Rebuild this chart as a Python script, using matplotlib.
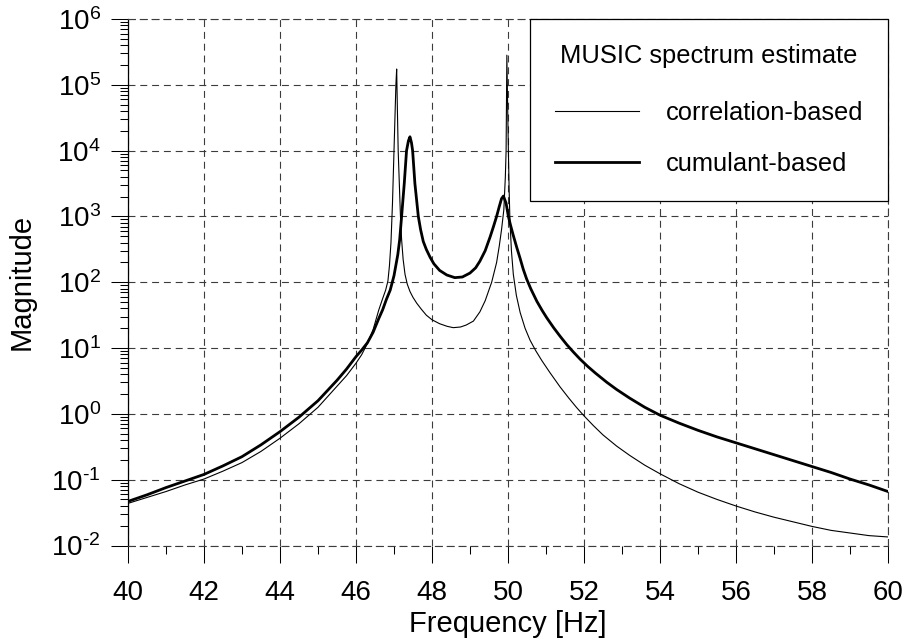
import numpy as np
import matplotlib
matplotlib.use('Agg')
import matplotlib.pyplot as plt
from matplotlib.ticker import MultipleLocator, LogLocator, FuncFormatter, NullFormatter

plt.rcParams['font.family'] = ['Liberation Sans', 'DejaVu Sans']
plt.rcParams['mathtext.fontset'] = 'custom'
plt.rcParams['mathtext.rm'] = 'Liberation Sans'
plt.rcParams['mathtext.it'] = 'Liberation Sans'
plt.rcParams['lines.scale_dashes'] = False

# correlation-based MUSIC (thin), log10 of magnitude
freq_corr = [40.0, 40.5, 41.0, 41.5, 42.0, 42.5, 43.0, 43.5, 44.0, 44.5, 45.0, 45.5,
             45.75, 46.0, 46.15, 46.3, 46.45, 46.6, 46.7, 46.78, 46.84, 46.88, 46.92,
             46.96, 47.0, 47.03, 47.05, 47.07, 47.09, 47.11, 47.14, 47.17, 47.2, 47.24,
             47.29, 47.35, 47.42, 47.5, 47.6, 47.72, 47.85, 48.0, 48.2, 48.4, 48.56,
             48.75, 48.9, 49.09, 49.26, 49.4, 49.57, 49.7, 49.77, 49.83, 49.89, 49.93,
             49.95, 49.97, 49.99, 50.01, 50.03, 50.05, 50.09, 50.14, 50.22, 50.32,
             50.45, 50.58, 50.73, 50.89, 51.1, 51.37, 51.6, 51.8, 52.0, 52.25, 52.5,
             52.86, 53.2, 53.6, 54.0, 54.5, 55.0, 55.5, 56.0, 56.5, 57.0, 57.5, 58.0,
             58.5, 59.0, 59.5, 60.0]
logmag_corr = [-1.36, -1.27, -1.18, -1.08, -0.99, -0.87, -0.74, -0.57, -0.37, -0.15, 0.1, 0.42,
               0.58, 0.77, 0.9, 1.07, 1.28, 1.58, 1.75, 1.88, 2.02, 2.25, 2.6,
               3.2, 4.0, 4.6, 5.0, 5.24, 4.6, 4.0, 3.5, 3.0, 2.65, 2.35,
               2.12, 1.97, 1.86, 1.77, 1.68, 1.59, 1.5, 1.43, 1.37, 1.33, 1.31,
               1.32, 1.35, 1.41, 1.55, 1.72, 2.0, 2.3, 2.55, 2.8, 3.1, 3.6,
               4.0, 5.45, 4.7, 4.0, 3.4, 2.95, 2.48, 2.12, 1.8, 1.54,
               1.3, 1.12, 0.96, 0.81, 0.63, 0.41, 0.24, 0.10, -0.03, -0.18, -0.32,
               -0.49, -0.63, -0.78, -0.91, -1.06, -1.19, -1.3, -1.4, -1.49, -1.57, -1.64, -1.71,
               -1.77, -1.81, -1.85, -1.87]

# cumulant-based MUSIC (thick)
freq_cum = [40.0, 40.5, 41.0, 41.5, 42.0, 42.5, 43.0, 43.5, 44.0, 44.5, 45.0, 45.5,
            45.75, 46.0, 46.15, 46.3, 46.45, 46.6, 46.7, 46.8, 46.9, 47.0, 47.1, 47.15,
            47.2, 47.27, 47.33, 47.38, 47.42, 47.46, 47.49, 47.55, 47.64, 47.7, 47.77,
            47.85, 47.95, 48.05, 48.2, 48.39, 48.6, 48.8, 49.0, 49.15, 49.26, 49.4,
            49.53, 49.62, 49.7, 49.77, 49.83, 49.88, 49.95, 50.01, 50.07, 50.14, 50.23,
            50.32, 50.4, 50.49, 50.6, 50.76, 50.9, 51.02, 51.2, 51.37, 51.55, 51.72,
            51.9, 52.1, 52.3, 52.6, 52.86, 53.2, 53.6, 54.0, 54.5, 55.0, 55.5, 56.0,
            56.5, 57.0, 57.5, 58.0, 58.5, 59.0, 59.5, 60.0]
logmag_cum = [-1.33, -1.23, -1.12, -1.02, -0.92, -0.79, -0.65, -0.47, -0.27, -0.05, 0.2, 0.51,
              0.68, 0.87, 0.97, 1.08, 1.24, 1.45, 1.58, 1.74, 1.88, 2.1, 2.42, 2.65,
              3.0, 3.5, 4.0, 4.15, 4.21, 4.12, 4.0, 3.5, 3.0, 2.8, 2.62,
              2.5, 2.38, 2.28, 2.18, 2.11, 2.07, 2.08, 2.14, 2.22, 2.32, 2.48,
              2.69, 2.85, 3.0, 3.15, 3.27, 3.31, 3.2, 3.0, 2.86, 2.71, 2.53,
              2.36, 2.2, 2.05, 1.9, 1.71, 1.57, 1.46, 1.31, 1.18, 1.05, 0.94,
              0.83, 0.72, 0.62, 0.48, 0.37, 0.24, 0.1, -0.02, -0.14, -0.25, -0.35, -0.44,
              -0.53, -0.62, -0.71, -0.80, -0.89, -0.99, -1.08, -1.18]

labels = ['correlation-based', 'cumulant-based']
legend_title = 'MUSIC spectrum estimate'

dash = (0, (5, 3.5))
grid_col = '#3c3c3c'


def dec_label(v, pos):
    e = int(round(np.log10(v)))
    s = str(e).replace('-', '\u2010')
    return r'$\mathregular{10^{%s}}$' % s


fig = plt.figure(figsize=(9.06, 6.4), dpi=100)
ax = fig.add_axes([128/906, 1-545.5/640, 760/906, 526.5/640])

ax.plot(freq_corr, 10**np.array(logmag_corr), color='k', lw=0.8, label=labels[0], zorder=3)
ax.plot(freq_cum, 10**np.array(logmag_cum), color='k', lw=2.0, label=labels[1], zorder=3)

ax.set_yscale('log')
ax.set_xlim(40, 60)
ax.set_ylim(1e-2, 1e6)

ax.xaxis.set_major_locator(MultipleLocator(2))
ax.xaxis.set_minor_locator(MultipleLocator(1))
ax.yaxis.set_major_locator(LogLocator(base=10, numticks=20))
ax.yaxis.set_minor_locator(LogLocator(base=10, subs=np.arange(2, 10), numticks=20))
ax.yaxis.set_minor_formatter(NullFormatter())
ax.xaxis.set_major_formatter(FuncFormatter(lambda v, p: '%d' % v))
ax.yaxis.set_major_formatter(FuncFormatter(dec_label))

ax.tick_params(which='major', direction='out', length=12.5, width=0.75, labelsize=20)
ax.tick_params(axis='y', which='major', pad=7)
ax.tick_params(axis='x', which='major', pad=12)
ax.tick_params(which='minor', direction='out', length=5.5, width=0.75)
ax.tick_params(top=False, right=False)

ax.grid(True, which='major', color=grid_col, lw=0.8, linestyle=dash, zorder=1)
for s in ['top', 'right', 'bottom']:
    ax.spines[s].set_linestyle(dash)
    ax.spines[s].set_color(grid_col)
    ax.spines[s].set_linewidth(0.8)
ax.spines['left'].set_linewidth(0.9)

ax.set_xlabel('Frequency [Hz]', fontsize=21)
ax.set_ylabel('Magnitude', fontsize=21)
ax.xaxis.set_label_coords(0.5, -0.1225)
ax.yaxis.set_label_coords(-0.122, 0.5)

leg = ax.legend(loc='upper right', bbox_to_anchor=(1.0, 1.0), borderaxespad=0,
                title=legend_title, fontsize=18.4, title_fontsize=18.4,
                frameon=True, fancybox=False, edgecolor='k', framealpha=1,
                borderpad=0.96, labelspacing=1.047, handlelength=3.3, handletextpad=1.05)
leg.get_frame().set_linewidth(0.9)
leg._legend_box.sep = 24.3  # a bit more room under the title
leg.set_zorder(5)

fig.savefig('out.png', dpi=100)
